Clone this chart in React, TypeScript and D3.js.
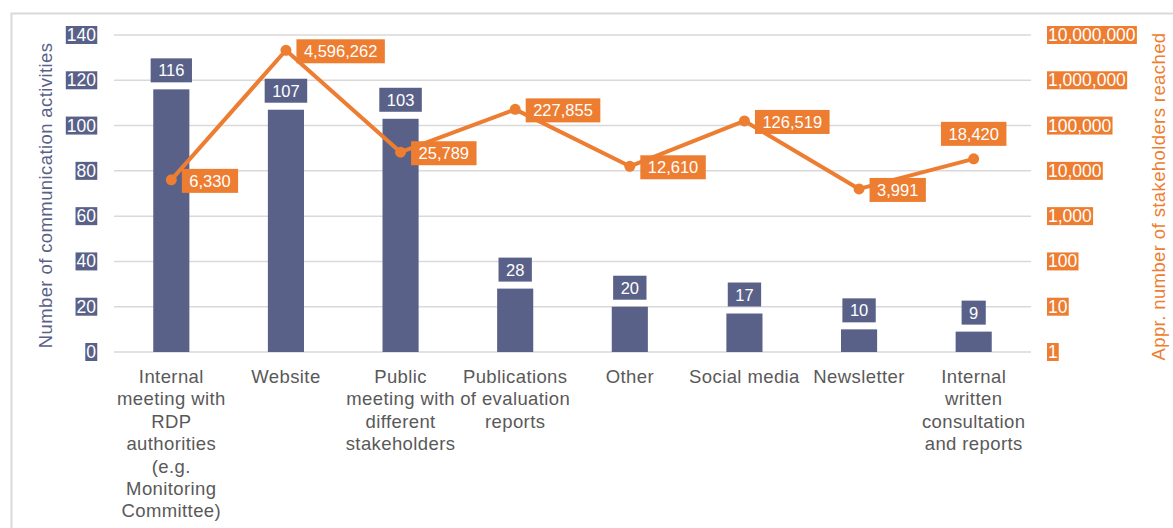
import React, { useEffect, useRef } from "react";
import * as d3 from "d3";

const categories: string[][] = [
  ["Internal", "meeting with", "RDP", "authorities", "(e.g.", "Monitoring", "Committee)"],
  ["Website"],
  ["Public", "meeting with", "different", "stakeholders"],
  ["Publications", "of evaluation", "reports"],
  ["Other"],
  ["Social media"],
  ["Newsletter"],
  ["Internal", "written", "consultation", "and reports"],
];
const activities: number[] = [116, 107, 103, 28, 20, 17, 10, 9];
const stakeholders: number[] = [6330, 4596262, 25789, 227855, 12610, 126519, 3991, 18420];
const leftTicks: number[] = [0, 20, 40, 60, 80, 100, 120, 140];
const rightTicks: number[] = [1, 10, 100, 1000, 10000, 100000, 1000000, 10000000];

const BLUE = "#596189";
const ORANGE = "#ed7d31";
const GRID = "#d9d9d9";
const FONT = "'Liberation Sans', Arial, sans-serif";

export default function App() {
  const ref = useRef<SVGSVGElement>(null);
  useEffect(() => {
    const svg = d3.select(ref.current);
    svg.selectAll("*").remove();
    const W = 1173, H = 528;
    const left = 114, right = 1031, top = 35, bottom = 352;

    svg.append("rect").attr("x", 11.5).attr("y", 13.5).attr("width", W).attr("height", H)
      .attr("fill", "white").attr("stroke", GRID).attr("stroke-width", 2);

    const idx = categories.map((_, i) => String(i));
    const x = d3.scaleBand().domain(idx).range([left, right]).paddingInner(0.685).paddingOuter(0.3425);
    const yL = d3.scaleLinear().domain([0, 140]).range([bottom, top]);
    const yR = d3.scaleLog().domain([1, 10000000]).range([bottom, top]);
    const cx = (i: number) => (x(String(i)) as number) + x.bandwidth() / 2;

    // gridlines
    svg.append("g").selectAll("line").data(leftTicks).join("line")
      .attr("x1", left).attr("x2", right)
      .attr("y1", d => yL(d)).attr("y2", d => yL(d))
      .attr("stroke", GRID).attr("stroke-width", 1.5);

    const boxed = (g: any, tx: number, ty: number, text: string, fill: string, anchor: string, size: number, padX: number, padY: number) => {
      const grp = g.append("g");
      const rect = grp.append("rect").attr("fill", fill);
      const t = grp.append("text").attr("x", tx).attr("y", ty).attr("text-anchor", anchor)
        .attr("dominant-baseline", "central").attr("fill", "white")
        .attr("font-size", size).attr("font-family", FONT).text(text);
      const bb = (t.node() as SVGTextElement).getBBox();
      rect.attr("x", bb.x - padX).attr("y", bb.y - padY).attr("width", bb.width + 2 * padX).attr("height", bb.height + 2 * padY);
    };

    const gl = svg.append("g");
    leftTicks.forEach(t => boxed(gl, 96, yL(t), String(t), BLUE, "end", 17.5, 1, -1));
    const gr = svg.append("g");
    const fmt = d3.format(",");
    rightTicks.forEach(t => boxed(gr, 1048, yR(t), fmt(t), ORANGE, "start", 17.5, 1, -1));

    // bars
    svg.append("g").selectAll("rect").data(activities).join("rect")
      .attr("x", (_, i) => x(String(i)) as number).attr("width", x.bandwidth())
      .attr("y", d => yL(d)).attr("height", d => bottom - yL(d)).attr("fill", BLUE);
    const gb = svg.append("g");
    activities.forEach((v, i) => boxed(gb, cx(i), yL(v) - 19, String(v), BLUE, "middle", 16.5, 7.5, 3));

    // line
    const line = d3.line<number>().x((_, i) => cx(i)).y(d => yR(d));
    svg.append("path").datum(stakeholders).attr("d", line).attr("fill", "none")
      .attr("stroke", ORANGE).attr("stroke-width", 4).attr("stroke-linejoin", "round");
    svg.append("g").selectAll("circle").data(stakeholders).join("circle")
      .attr("cx", (_, i) => cx(i)).attr("cy", d => yR(d)).attr("r", 5.5).attr("fill", ORANGE);
    const gp = svg.append("g");
    stakeholders.forEach((v, i) => {
      if (i === stakeholders.length - 1) boxed(gp, cx(i), yR(v) - 25, fmt(v), ORANGE, "middle", 16.5, 7.5, 3);
      else boxed(gp, cx(i) + 18, yR(v) + 1, fmt(v), ORANGE, "start", 16.5, 7.5, 3);
    });

    // x labels
    const gx = svg.append("g");
    categories.forEach((lines, i) => {
      const t = gx.append("text").attr("text-anchor", "middle").attr("fill", "#595959")
        .attr("font-size", 18.5).attr("letter-spacing", 0.4).attr("font-family", FONT);
      lines.forEach((l, j) => t.append("tspan").attr("x", cx(i)).attr("y", 383 + j * 22.4).text(l));
    });

    // axis titles
    svg.append("text").attr("transform", `translate(52,${(top + bottom) / 2 + 2}) rotate(-90)`)
      .attr("text-anchor", "middle").attr("fill", BLUE).attr("font-size", 18.5).attr("letter-spacing", 0.4)
      .attr("font-family", FONT)
      .text("Number of communication activities");
    svg.append("text").attr("transform", `translate(1165,${(top + bottom) / 2 + 3}) rotate(-90)`)
      .attr("text-anchor", "middle").attr("fill", ORANGE).attr("font-size", 18.5).attr("letter-spacing", 0.4)
      .attr("font-family", FONT)
      .text("Appr. number of stakeholders reached");
  }, []);
  return (
    <svg ref={ref} width={1173} height={528} style={{ position: "absolute", left: 0, top: 0 }} />
  );
}
